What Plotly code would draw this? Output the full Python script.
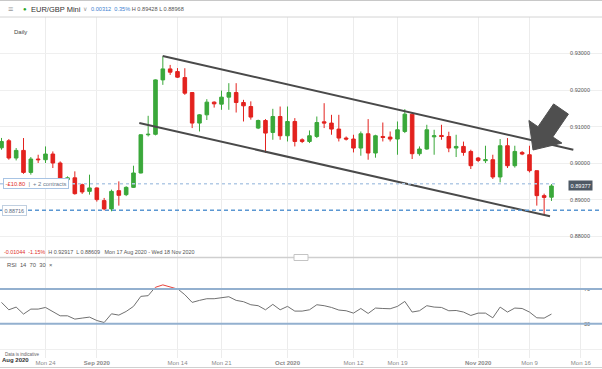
import plotly.graph_objects as go

# ---------------- data ----------------
dates = [
    "2020-08-17", "2020-08-18", "2020-08-19", "2020-08-20", "2020-08-21", "2020-08-23", "2020-08-24",
    "2020-08-25", "2020-08-26", "2020-08-27", "2020-08-28", "2020-08-30", "2020-08-31",
    "2020-09-01", "2020-09-02", "2020-09-03", "2020-09-04", "2020-09-06", "2020-09-07", "2020-09-08",
    "2020-09-09", "2020-09-10", "2020-09-11", "2020-09-13", "2020-09-14", "2020-09-15", "2020-09-16",
    "2020-09-17", "2020-09-18", "2020-09-20", "2020-09-21", "2020-09-22", "2020-09-23", "2020-09-24",
    "2020-09-25", "2020-09-27", "2020-09-28", "2020-09-29", "2020-09-30",
    "2020-10-01", "2020-10-02", "2020-10-04", "2020-10-05", "2020-10-06", "2020-10-07", "2020-10-08",
    "2020-10-09", "2020-10-11", "2020-10-12", "2020-10-13", "2020-10-14", "2020-10-15", "2020-10-16",
    "2020-10-18", "2020-10-19", "2020-10-20", "2020-10-21", "2020-10-22", "2020-10-23", "2020-10-25",
    "2020-10-26", "2020-10-27", "2020-10-28", "2020-10-29", "2020-10-30",
    "2020-11-01", "2020-11-02", "2020-11-03", "2020-11-04", "2020-11-05", "2020-11-06", "2020-11-08",
    "2020-11-09", "2020-11-10", "2020-11-11", "2020-11-12",
]
opens = [
    0.90421, 0.90613, 0.90141, 0.90349, 0.89748, 0.90114, 0.90095, 0.90250, 0.90005, 0.89549,
    0.89600, 0.89413, 0.89230, 0.89323, 0.88977, 0.88750, 0.89249, 0.89140, 0.89339, 0.89732,
    0.90777, 0.90790, 0.92277, 0.92577, 0.92504, 0.92340, 0.91931, 0.91096, 0.91322, 0.91669,
    0.91614, 0.91805, 0.91931, 0.91658, 0.91549, 0.90960, 0.91167, 0.90840, 0.91276, 0.90750,
    0.91140, 0.90640, 0.90594, 0.90730, 0.91131, 0.91096, 0.90932, 0.90687, 0.90660, 0.90414,
    0.90804, 0.90278, 0.90730, 0.90714, 0.90660, 0.90867, 0.91341, 0.90259, 0.90387, 0.90720,
    0.90758, 0.90730, 0.90414, 0.90458, 0.90321, 0.90141, 0.90068, 0.90095, 0.89623, 0.90477,
    0.89931, 0.90294, 0.90231, 0.89795, 0.89113, 0.89070,
]
highs = [
    0.90690, 0.90660, 0.90414, 0.90687, 0.90168, 0.90231, 0.90458, 0.90321, 0.90050, 0.89640,
    0.89777, 0.89440, 0.89686, 0.89340, 0.89050, 0.89277, 0.89503, 0.89370, 0.89931, 0.90790,
    0.91295, 0.92290, 0.92917, 0.92686, 0.92600, 0.92596, 0.91940, 0.91341, 0.91750, 0.91690,
    0.91985, 0.92187, 0.92187, 0.91732, 0.91690, 0.91190, 0.91205, 0.91486, 0.91549, 0.91549,
    0.91232, 0.90680, 0.90895, 0.91276, 0.91640, 0.91322, 0.91322, 0.90730, 0.90777, 0.90867,
    0.91205, 0.90777, 0.91112, 0.90867, 0.91140, 0.91477, 0.91395, 0.90458, 0.91050, 0.90913,
    0.91050, 0.90860, 0.90777, 0.90590, 0.90368, 0.90170, 0.90477, 0.90231, 0.90660, 0.90687,
    0.90477, 0.90330, 0.90477, 0.89800, 0.89167, 0.89428,
]
lows = [
    0.90368, 0.90095, 0.90076, 0.89710, 0.89686, 0.90005, 0.90005, 0.89868, 0.89500, 0.89520,
    0.89140, 0.89160, 0.89140, 0.88950, 0.88712, 0.88685, 0.88840, 0.89100, 0.89323, 0.89720,
    0.90730, 0.90760, 0.92141, 0.92413, 0.92330, 0.91868, 0.90960, 0.90867, 0.91180, 0.91520,
    0.91459, 0.91459, 0.91385, 0.91140, 0.91190, 0.90932, 0.90278, 0.90640, 0.90640, 0.90594,
    0.90458, 0.90550, 0.90550, 0.90687, 0.90960, 0.90777, 0.90594, 0.90620, 0.90294, 0.90204,
    0.90095, 0.90150, 0.90594, 0.90594, 0.90231, 0.90823, 0.90114, 0.90204, 0.90368, 0.90231,
    0.90640, 0.90300, 0.90168, 0.90204, 0.89841, 0.90030, 0.90005, 0.89568, 0.89476, 0.89868,
    0.89880, 0.90220, 0.89748, 0.88840, 0.88609, 0.88968,
]
closes = [
    0.90594, 0.90141, 0.90349, 0.89748, 0.90114, 0.90095, 0.90250, 0.90005, 0.89549, 0.89600,
    0.89167, 0.89214, 0.89323, 0.89004, 0.88750, 0.89230, 0.89121, 0.89339, 0.89732, 0.90777,
    0.90790, 0.92277, 0.92577, 0.92487, 0.92351, 0.91914, 0.91096, 0.91322, 0.91669, 0.91622,
    0.91805, 0.91931, 0.91658, 0.91568, 0.91260, 0.91167, 0.90823, 0.91276, 0.90750, 0.91140,
    0.90594, 0.90594, 0.90750, 0.91112, 0.91096, 0.90932, 0.90687, 0.90660, 0.90414, 0.90804,
    0.90278, 0.90750, 0.90703, 0.90660, 0.90913, 0.91341, 0.90259, 0.90387, 0.90913, 0.90750,
    0.90730, 0.90414, 0.90458, 0.90294, 0.89931, 0.90076, 0.90095, 0.89623, 0.90477, 0.89931,
    0.90321, 0.90250, 0.89795, 0.89113, 0.89065, 0.89377,
]
rsi_values = [
    54.6, 46.1, 49.2, 41.2, 46.9, 46.9, 48.8, 44.2, 39.2, 39.2,
    35.4, 36.6, 37.7, 33.8, 31.5, 41.5, 40.0, 44.2, 50.0, 61.5,
    62.3, 72.3, 75.0, 73.0, 70.3, 63.4, 54.6, 56.9, 58.8, 58.8,
    60.3, 61.1, 56.9, 55.4, 51.9, 50.8, 46.1, 52.3, 46.1, 50.0,
    44.6, 44.6, 46.1, 51.9, 50.8, 48.8, 45.8, 45.0, 42.3, 47.6,
    41.9, 48.1, 47.6, 47.3, 50.0, 55.7, 43.5, 45.0, 50.8, 49.2,
    48.8, 45.0, 45.3, 43.5, 39.6, 42.3, 42.3, 36.9, 49.2, 43.5,
    48.1, 47.6, 43.5, 36.9, 36.6, 41.2,
]

# x-axis ticks (candle slot index) and labels
tick_index = [6, 13, 24, 30, 39, 48, 54, 65, 72, 79]
tick_labels = ["Mon 24", "Sep 2020", "Mon 14", "Mon 21", "Oct 2020", "Mon 12",
               "Mon 19", "Nov 2020", "Mon 9", "Mon 16"]
first_month_label = "Aug 2020"
first_month_pos = 1.87

price_ticks = [0.88, 0.89, 0.90, 0.91, 0.92, 0.93]
rsi_ticks = [0, 30, 70, 100]
rsi_levels = [70, 30]

# hand-drawn channel lines (slot index, price)
upper_channel_x = [21.98, 77.98]
upper_channel_y = [0.92932, 0.90368]
lower_channel_x = [18.79, 74.8]
lower_channel_y = [0.91096, 0.88548]

support_level = 0.88716
position_level = 0.89440
position_pnl = "-£10.80"
position_size = "+ 2 contracts"
range_start_label = "Mon 17 Aug 2020"
range_end_label = "Wed 18 Nov 2020"
instrument = "EUR/GBP Mini"

# ---------------- layout helpers ----------------
W, H = 602, 369
FONT = "Liberation Sans, Arial, sans-serif"
GREEN = "#3aa83a"
RED = "#e3221e"


def py(p):
    return 1 - p / H


def px(p):
    return p / W


x = list(range(len(dates)))
x_range = [-0.2045, 81.89]
main_range = [0.87422, 0.93996]
rsi_range = [-9.19, 106.08]

fig = go.Figure()

fig.add_trace(go.Candlestick(
    x=x, open=opens, high=highs, low=lows, close=closes,
    increasing=dict(line=dict(color=GREEN, width=1), fillcolor=GREEN),
    decreasing=dict(line=dict(color=RED, width=1), fillcolor=RED),
    whiskerwidth=0, showlegend=False, xaxis="x", yaxis="y", hoverinfo="skip",
))

for cx, cy in [(upper_channel_x, upper_channel_y), (lower_channel_x, lower_channel_y)]:
    fig.add_trace(go.Scatter(x=cx, y=cy, mode="lines", line=dict(color="#4a4a4a", width=2),
                             showlegend=False, xaxis="x", yaxis="y", hoverinfo="skip"))

fig.add_trace(go.Scatter(x=x, y=rsi_values, mode="lines", line=dict(color="#707070", width=1),
                         showlegend=False, xaxis="x2", yaxis="y2", hoverinfo="skip"))
fig.add_trace(go.Scatter(x=x, y=rsi_values, mode="lines", line=dict(color="#e8433b", width=1),
                         showlegend=False, xaxis="x2", yaxis="y3", hoverinfo="skip"))

shapes = []
# toolbar borders
shapes.append(dict(type="line", xref="paper", yref="paper", x0=0, x1=1, y0=py(0.5), y1=py(0.5),
                   line=dict(color="#c8c8c8", width=1)))
shapes.append(dict(type="line", xref="paper", yref="paper", x0=0, x1=1, y0=py(17), y1=py(17),
                   line=dict(color="#d4d4d4", width=1)))
# panel separator
shapes.append(dict(type="line", xref="paper", yref="paper", x0=0, x1=1, y0=py(257.5), y1=py(257.5),
                   line=dict(color="#cfcfcf", width=1.5)))
shapes.append(dict(type="rect", xref="paper", yref="paper", x0=px(294), x1=px(308), y0=py(260.5),
                   y1=py(254.5), line=dict(color="#c4c4c4", width=1), fillcolor="#ffffff"))
# bottom frame line
shapes.append(dict(type="line", xref="paper", yref="paper", x0=0, x1=1, y0=py(367.5), y1=py(367.5),
                   line=dict(color="#d0d0d0", width=1)))
# support and position levels
shapes.append(dict(type="line", xref="paper", yref="y", x0=0, x1=1, y0=support_level,
                   y1=support_level, line=dict(color="#5b97d2", width=1.5, dash="4px,3px")))
shapes.append(dict(type="line", xref="paper", yref="y", x0=0, x1=px(556), y0=position_level,
                   y1=position_level, line=dict(color="#b3cbe6", width=1.5, dash="dot")))
# RSI 70 / 30 levels
for lv in rsi_levels:
    shapes.append(dict(type="line", xref="paper", yref="y2", x0=0, x1=1, y0=lv, y1=lv,
                       line=dict(color="#93b0cf", width=2)))
# big arrow (decoration)
arrow_pts = [(553.6, 103.9), (568.4, 114.1), (552.8, 136.9), (561.9, 143.1), (533, 150),
             (528.9, 120.5), (538.0, 126.7)]
path = "M " + " L ".join(f"{px(a):.4f},{py(b):.4f}" for a, b in arrow_pts) + " Z"
shapes.append(dict(type="path", xref="paper", yref="paper", path=path,
                   fillcolor="#4f4f4f", line=dict(color="#4f4f4f", width=1)))

ann = []


def text(xp, yp, t, size=6, color="#555", xanchor="left", **kw):
    ann.append(dict(x=px(xp), y=py(yp), xref="paper", yref="paper", text=t, showarrow=False,
                    xanchor=xanchor, yanchor="middle", font=dict(size=size, color=color, family=FONT), **kw))


chg = closes[-1] - closes[-2]
chg_pct = chg / closes[-2] * 100
text(6, 9, "≡", size=9, color="#999")
text(21, 9, "●", size=6, color="#2aa52a")
text(29, 9, instrument, size=7.5, color="#333")
text(81, 9, "∨", size=5.5, color="#999")
text(89, 9, f"<span style='color:#3c7fd0'>{chg:.5f}  {chg_pct:.2f}%</span> H {highs[-1]:.5f} L {lows[-1]:.5f}",
     size=5.6, color="#555")
text(12, 32, "Daily", size=6, color="#444")

tot = closes[-1] - opens[0]
tot_pct = tot / opens[0] * 100
text(2, 251.5, f"<span style='color:#e0302a'>{tot:.5f}  {tot_pct:.2f}%</span>  H {max(highs):.5f}  "
     f"L {min(lows):.5f}   {range_start_label} - {range_end_label}", size=5.4, color="#555")
text(5, 265, "RSI  14  70  30  ×", size=5.8, color="#555")
text(3, 354.5, "Data is indicative", size=4.5, color="#666")

# position box and level labels
ann.append(dict(x=px(3), y=position_level, xref="paper", yref="y", showarrow=False, xanchor="left",
                yanchor="middle",
                text=f"<span style='color:#e0302a'>{position_pnl}</span>  |  {position_size}",
                font=dict(size=5.8, color="#6a7a8c", family=FONT), bgcolor="#ffffff",
                bordercolor="#a8c4e4", borderwidth=1, borderpad=1.5))
ann.append(dict(x=px(2), y=support_level, xref="paper", yref="y", showarrow=False, xanchor="left",
                yanchor="middle", text=f"{support_level:.5f}",
                font=dict(size=5.4, color="#5a6a80", family=FONT), bgcolor="#ffffff",
                bordercolor="#c0cfe0", borderwidth=1, borderpad=1.5))
ann.append(dict(x=px(593), y=closes[-1], xref="paper", yref="y", showarrow=False, xanchor="right",
                yanchor="middle", text=f"{closes[-1]:.5f}",
                font=dict(size=5.6, color="#ffffff", family=FONT), bgcolor="#4e5965",
                borderpad=1.5))
ann.append(dict(x=first_month_pos, y=py(359.6), xref="x2", yref="paper", showarrow=False,
                xanchor="center", yanchor="middle", text=f"<b>{first_month_label}</b>",
                font=dict(size=6, color="#333", family=FONT)))

month_words = ("Aug", "Sep", "Oct", "Nov")
tick_text = [f"<b>{t}</b>" if t.startswith(month_words) else t for t in tick_labels]

fig.update_layout(
    width=W, height=H, autosize=False,
    margin=dict(l=0, r=0, t=0, b=0),
    paper_bgcolor="#ffffff", plot_bgcolor="#ffffff",
    showlegend=False, hovermode=False,
    font=dict(family=FONT, size=6, color="#888"),
    shapes=shapes, annotations=ann,
    xaxis=dict(domain=[0, 1], range=x_range, anchor="y", tickmode="array", tickvals=tick_index,
               showticklabels=False, showgrid=True, gridcolor="#ececec", gridwidth=1,
               zeroline=False, showline=False, rangeslider=dict(visible=False), fixedrange=True),
    yaxis=dict(domain=[py(257.5), py(17)], range=main_range, anchor="x", side="right",
               tickmode="array", tickvals=price_ticks, tickformat=".5f",
               ticklabelposition="inside", ticklabelstandoff=9,
               tickfont=dict(size=5.5, color="#555"), showgrid=True, gridcolor="#efefef",
               zeroline=False, showline=False, ticks=""),
    xaxis2=dict(domain=[0, 1], range=x_range, anchor="y2", tickmode="array", tickvals=tick_index,
                ticktext=tick_text, showticklabels=True, tickfont=dict(size=6, color="#8a8a8a"),
                showgrid=True, gridcolor="#ececec", zeroline=False, showline=False, ticks=""),
    yaxis2=dict(domain=[py(358), py(257.5)], range=rsi_range, anchor="x2", side="right",
                tickmode="array", tickvals=rsi_ticks, ticktext=["", "30", "70", ""],
                ticklabelposition="inside", ticklabelstandoff=9,
                tickfont=dict(size=5.5, color="#555"), showgrid=True, gridcolor="#efefef",
                zeroline=False, showline=False, ticks=""),
    yaxis3=dict(domain=[py(289.3), py(257.5)], range=[70, rsi_range[1]], anchor="x2",
                visible=False, showgrid=False, zeroline=False),
)

fig.write_html(
    "out.html",
    config={"displayModeBar": False},
    post_script="document.body.style.margin='0';document.body.style.overflow='hidden';",
)
